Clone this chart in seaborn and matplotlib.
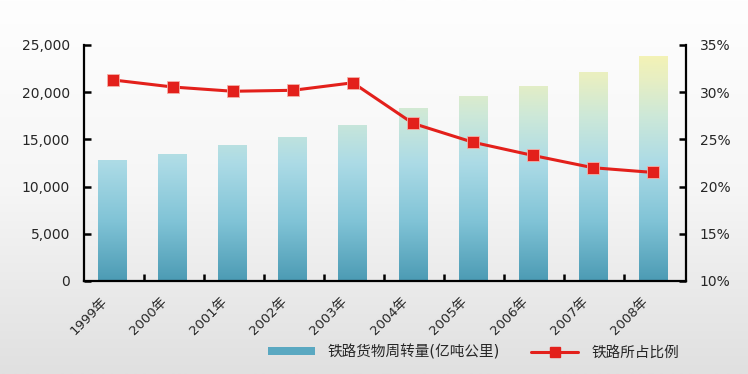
import numpy as np
import pandas as pd
import matplotlib
matplotlib.use('Agg')
import matplotlib.pyplot as plt
from matplotlib.colors import LinearSegmentedColormap
from matplotlib.patches import Patch
from matplotlib.lines import Line2D
from matplotlib.ticker import FuncFormatter
import seaborn as sns

years = ['1999年', '2000年', '2001年', '2002年', '2003年',
         '2004年', '2005年', '2006年', '2007年', '2008年']
freight = [12800, 13450, 14400, 15250, 16500, 18300, 19600, 20650, 22100, 23800]
share = [31.3, 30.55, 30.1, 30.2, 31.0, 26.7, 24.7, 23.3, 22.0, 21.5]

bar_label = '铁路货物周转量(亿吨公里)'
line_label = '铁路所占比例'

df = pd.DataFrame({'year': years, 'freight': freight, 'share': share})

sns.set_theme(style='white')
plt.rcParams['font.family'] = ['DejaVu Sans', 'Noto Sans CJK SC']
plt.rcParams['axes.unicode_minus'] = False

fig = plt.figure(figsize=(7.48, 3.74), dpi=100)

# background gradient over whole figure
bg = fig.add_axes([0, 0, 1, 1], zorder=-10)
bg_cmap = LinearSegmentedColormap.from_list('bg', ['#fefefe', '#f6f6f6', '#e0e0e0'])
bg.imshow(np.linspace(0, 1, 256).reshape(-1, 1), aspect='auto', cmap=bg_cmap,
          extent=(0, 1, 0, 1), origin='upper')
bg.axis('off')

ax = fig.add_axes([84 / 748, 1 - 281 / 374, (686 - 84) / 748, (281 - 45) / 374])
ax.patch.set_alpha(0)

sns.barplot(data=df, x='year', y='freight', width=0.48, color='#5aa8c1', ax=ax)

# gradient fill for bars (fixed in data space)
bar_cmap = LinearSegmentedColormap.from_list(
    'bars', [(0, '#4c9bb4'), (0.25, '#80c3d6'), (0.5, '#acdbe6'),
             (0.7, '#cde8d8'), (0.86, '#e8efc2'), (1.0, '#f9f4b0')])
grad = np.linspace(1, 0, 256).reshape(-1, 1)
for p in ax.patches:
    x0, w = p.get_x(), p.get_width()
    im = ax.imshow(grad, aspect='auto', cmap=bar_cmap, vmin=0, vmax=1,
                   extent=(x0, x0 + w, 0, 25000), origin='upper', zorder=2)
    im.set_clip_path(p)
    p.set_facecolor('none')
    p.set_edgecolor('none')

ax.set_xlim(-0.48, 9.55)
ax.set_ylim(0, 25000)
ax.set_yticks(range(0, 25001, 5000))
ax.yaxis.set_major_formatter(FuncFormatter(lambda v, _: f'{int(v):,}'))
ax.set_xlabel('')
ax.set_ylabel('')

# year labels sit a little left of each bar, separator ticks between bars
ax.set_xticks(np.arange(len(years)) - 0.2)
ax.set_xticklabels(years, rotation=45, ha='right', rotation_mode='anchor', fontsize=9.5)
ax.set_xticks(np.arange(len(years) - 1) + 0.52, minor=True)
ax.tick_params(axis='x', which='major', length=0, pad=10)
ax.tick_params(axis='x', which='minor', direction='in', length=5, width=1.8, color='black', bottom=True)
ax.tick_params(axis='y', direction='in', length=5, width=1.8, color='black', left=True,
               labelsize=10, pad=10)
for s in ['top', 'right']:
    ax.spines[s].set_visible(False)
for s in ['left', 'bottom']:
    ax.spines[s].set_color('black')
    ax.spines[s].set_linewidth(1.6)

ax2 = ax.twinx()
sns.lineplot(data=df, x='year', y='share', ax=ax2, color='#e3201b', linewidth=2.2,
             marker='s', markersize=8, markeredgecolor='#f4b0a8', markeredgewidth=0.6,
             sort=False, zorder=5)
ax2.set_ylim(10, 35)
ax2.set_yticks(range(10, 36, 5))
ax2.yaxis.set_major_formatter(FuncFormatter(lambda v, _: f'{int(v)}%'))
ax2.set_ylabel('')
ax2.set_xlabel('')
ax2.tick_params(axis='y', direction='in', length=5, width=1.8, color='black', right=True,
                labelsize=10, pad=10)
for s in ['top', 'left', 'bottom']:
    ax2.spines[s].set_visible(False)
ax2.spines['right'].set_color('black')
ax2.spines['right'].set_linewidth(1.6)
ax2.set_xlim(-0.48, 9.55)
if ax2.get_legend():
    ax2.get_legend().remove()

handles = [Patch(facecolor='#5aa8c1', edgecolor='none', label=bar_label),
           Line2D([0], [0], color='#e3201b', linewidth=2.2, marker='s', markersize=7,
                  label=line_label)]
fig.legend(handles=handles, loc='center', bbox_to_anchor=(0.633, 0.059), ncol=2,
           frameon=False, fontsize=10.5, handlelength=3.2, handleheight=0.45,
           handletextpad=0.9, columnspacing=2.15)

fig.savefig('out.png', dpi=100)
